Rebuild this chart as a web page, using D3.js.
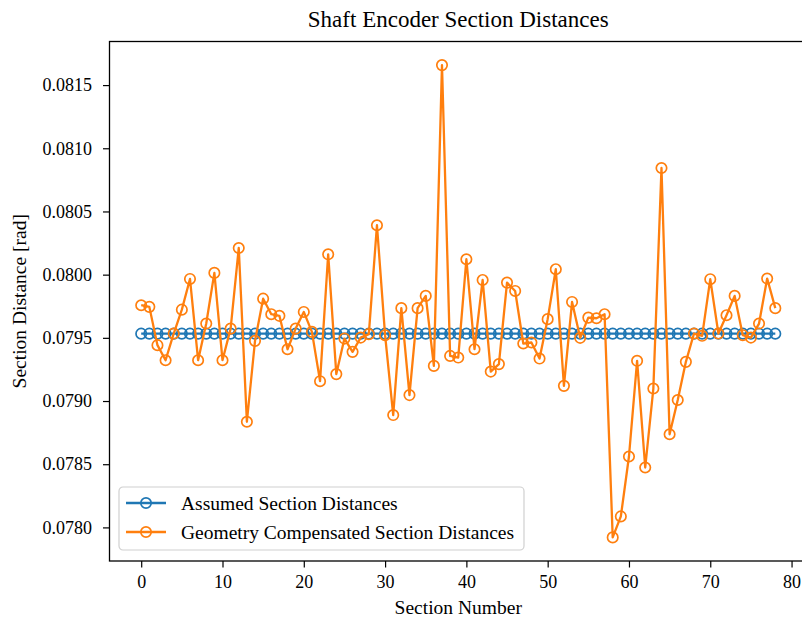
<!DOCTYPE html>
<html>
<head>
<meta charset="utf-8">
<script src="https://cdn.jsdelivr.net/npm/d3@7"></script>
<style>
  html, body { margin: 0; padding: 0; background: #fff; }
  svg { display: block; font-family: "Liberation Serif", "DejaVu Serif", serif; }
  svg text { font-family: "Liberation Serif", "DejaVu Serif", serif; }
</style>
</head>
<body>
<svg id="chart" width="802" height="621"></svg>
<script>
// Section numbers along the shaft encoder
const sectionNumbers = [
  0, 1, 2, 3, 4, 5, 6, 7, 8, 9, 10, 11, 12, 13, 14, 15, 16, 17, 18, 19,
  20, 21, 22, 23, 24, 25, 26, 27, 28, 29, 30, 31, 32, 33, 34, 35, 36, 37, 38, 39,
  40, 41, 42, 43, 44, 45, 46, 47, 48, 49, 50, 51, 52, 53, 54, 55, 56, 57, 58, 59,
  60, 61, 62, 63, 64, 65, 66, 67, 68, 69, 70, 71, 72, 73, 74, 75, 76, 77, 78
];

// Equal-spacing assumption: every section spans the same angle [rad]
const assumedDistances = [
  0.079533, 0.079533, 0.079533, 0.079533, 0.079533, 0.079533, 0.079533, 0.079533, 0.079533, 0.079533,
  0.079533, 0.079533, 0.079533, 0.079533, 0.079533, 0.079533, 0.079533, 0.079533, 0.079533, 0.079533,
  0.079533, 0.079533, 0.079533, 0.079533, 0.079533, 0.079533, 0.079533, 0.079533, 0.079533, 0.079533,
  0.079533, 0.079533, 0.079533, 0.079533, 0.079533, 0.079533, 0.079533, 0.079533, 0.079533, 0.079533,
  0.079533, 0.079533, 0.079533, 0.079533, 0.079533, 0.079533, 0.079533, 0.079533, 0.079533, 0.079533,
  0.079533, 0.079533, 0.079533, 0.079533, 0.079533, 0.079533, 0.079533, 0.079533, 0.079533, 0.079533,
  0.079533, 0.079533, 0.079533, 0.079533, 0.079533, 0.079533, 0.079533, 0.079533, 0.079533, 0.079533,
  0.079533, 0.079533, 0.079533, 0.079533, 0.079533, 0.079533, 0.079533, 0.079533, 0.079533
];

// Measured section widths after geometry compensation [rad]
const compensatedDistances = [
  0.079758, 0.079745, 0.079442, 0.079323, 0.079534, 0.079723, 0.079966, 0.079323, 0.079613, 0.080014,
  0.079323, 0.079573, 0.080211, 0.078836, 0.079476, 0.079810, 0.079687, 0.079674, 0.079410, 0.079573,
  0.079705, 0.079547, 0.079157, 0.080161, 0.079213, 0.079494, 0.079389, 0.079502, 0.079529, 0.080391,
  0.079521, 0.078889, 0.079735, 0.079047, 0.079735, 0.079832, 0.079278, 0.081658, 0.079357, 0.079344,
  0.080122, 0.079410, 0.079958, 0.079233, 0.079292, 0.079937, 0.079871, 0.079455, 0.079463, 0.079336,
  0.079648, 0.080043, 0.079120, 0.079784, 0.079500, 0.079660, 0.079655, 0.079687, 0.077921, 0.078087,
  0.078561, 0.079318, 0.078474, 0.079099, 0.080844, 0.078737, 0.079008, 0.079310, 0.079534, 0.079516,
  0.079964, 0.079534, 0.079679, 0.079832, 0.079521, 0.079502, 0.079613, 0.079969, 0.079735
];

const xTickValues = [0, 10, 20, 30, 40, 50, 60, 70, 80];
const yTickValues = [0.0780, 0.0785, 0.0790, 0.0795, 0.0800, 0.0805, 0.0810, 0.0815];

const seriesNames = ["Assumed Section Distances", "Geometry Compensated Section Distances"];
const seriesColors = ["#1f77b4", "#ff7f0e"];

const serif = "'Liberation Serif', 'DejaVu Serif', serif";
const svg = d3.select("#chart");

// Plot frame (right edge falls just past the canvas)
const plot = { left: 109.5, right: 807, top: 41.5, bottom: 561 };

// Autoscale with 5% margins on both axes
const xMin = d3.min(sectionNumbers), xMax = d3.max(sectionNumbers);
const xPad = (xMax - xMin) * 0.05;
const allY = assumedDistances.concat(compensatedDistances);
const yMin = d3.min(allY), yMax = d3.max(allY);
const yPad = (yMax - yMin) * 0.05;

const x = d3.scaleLinear().domain([xMin - xPad, xMax + xPad]).range([plot.left, plot.right]);
const y = d3.scaleLinear().domain([yMin - yPad, yMax + yPad]).range([plot.bottom, plot.top]);

const tickFont = 18;
const labelFont = 19.5;

// Clip for data marks
svg.append("defs").append("clipPath").attr("id", "plotClip")
  .append("rect")
  .attr("x", plot.left).attr("y", plot.top)
  .attr("width", plot.right - plot.left).attr("height", plot.bottom - plot.top);

const series = [assumedDistances, compensatedDistances];

const line = d3.line()
  .x((d, i) => x(sectionNumbers[i]))
  .y(d => y(d));

const marks = svg.append("g").attr("clip-path", "url(#plotClip)");

series.forEach((values, k) => {
  const g = marks.append("g");
  g.append("path")
    .datum(values)
    .attr("fill", "none")
    .attr("stroke", seriesColors[k])
    .attr("stroke-width", 2.3)
    .attr("stroke-linejoin", "round")
    .attr("d", line);
  g.selectAll("circle")
    .data(values)
    .join("circle")
    .attr("cx", (d, i) => x(sectionNumbers[i]))
    .attr("cy", d => y(d))
    .attr("r", 5.2)
    .attr("fill", "none")
    .attr("stroke", seriesColors[k])
    .attr("stroke-width", 1.7);
});

// Axes
const xAxis = d3.axisBottom(x)
  .tickValues(xTickValues)
  .tickFormat(d3.format("d"))
  .tickSizeOuter(0)
  .tickSize(6.5)
  .tickPadding(7.5);

const yAxis = d3.axisLeft(y)
  .tickValues(yTickValues)
  .tickFormat(d3.format(".4f"))
  .tickSizeOuter(0)
  .tickSize(6.5)
  .tickPadding(11);

const gx = svg.append("g")
  .attr("transform", `translate(0,${plot.bottom})`)
  .call(xAxis);
const gy = svg.append("g")
  .attr("transform", `translate(${plot.left},0)`)
  .call(yAxis);

[gx, gy].forEach(g => {
  g.attr("font-family", serif).attr("font-size", tickFont);
  g.select(".domain").remove();
  g.selectAll(".tick line").attr("stroke", "#000").attr("stroke-width", 1.2);
  g.selectAll(".tick text")
    .attr("fill", "#000")
    .attr("font-family", serif)
    .attr("font-size", tickFont);
});

// Frame
svg.append("rect")
  .attr("x", plot.left).attr("y", plot.top)
  .attr("width", plot.right - plot.left).attr("height", plot.bottom - plot.top)
  .attr("fill", "none")
  .attr("stroke", "#000")
  .attr("stroke-width", 1.3);

// Title and axis labels
svg.append("text")
  .attr("x", (plot.left + plot.right) / 2)
  .attr("y", 27)
  .attr("text-anchor", "middle")
  .attr("fill", "#000")
  .attr("font-family", serif)
  .attr("font-size", 23)
  .text("Shaft Encoder Section Distances");

svg.append("text")
  .attr("x", (plot.left + plot.right) / 2)
  .attr("y", 614)
  .attr("text-anchor", "middle")
  .attr("fill", "#000")
  .attr("font-family", serif)
  .attr("font-size", labelFont)
  .text("Section Number");

svg.append("text")
  .attr("transform", `translate(26,${(plot.top + plot.bottom) / 2}) rotate(-90)`)
  .attr("text-anchor", "middle")
  .attr("fill", "#000")
  .attr("font-family", serif)
  .attr("font-size", labelFont)
  .text("Section Distance [rad]");

// Legend
const legend = svg.append("g").attr("transform", "translate(119,487)");
legend.append("rect")
  .attr("width", 405).attr("height", 63)
  .attr("rx", 4).attr("ry", 4)
  .attr("fill", "#fff")
  .attr("fill-opacity", 0.8)
  .attr("stroke", "#d0d0d0")
  .attr("stroke-width", 1.2);

seriesNames.forEach((name, k) => {
  const row = legend.append("g").attr("transform", `translate(0,${16 + k * 29})`);
  row.append("line")
    .attr("x1", 7).attr("x2", 47)
    .attr("stroke", seriesColors[k])
    .attr("stroke-width", 2.3);
  row.append("circle")
    .attr("cx", 27).attr("r", 5.2)
    .attr("fill", "none")
    .attr("stroke", seriesColors[k])
    .attr("stroke-width", 1.7);
  row.append("text")
    .attr("x", 62)
    .attr("dy", "0.35em")
    .attr("fill", "#000")
    .attr("font-family", serif)
    .attr("font-size", labelFont)
    .text(name);
});
</script>
</body>
</html>
